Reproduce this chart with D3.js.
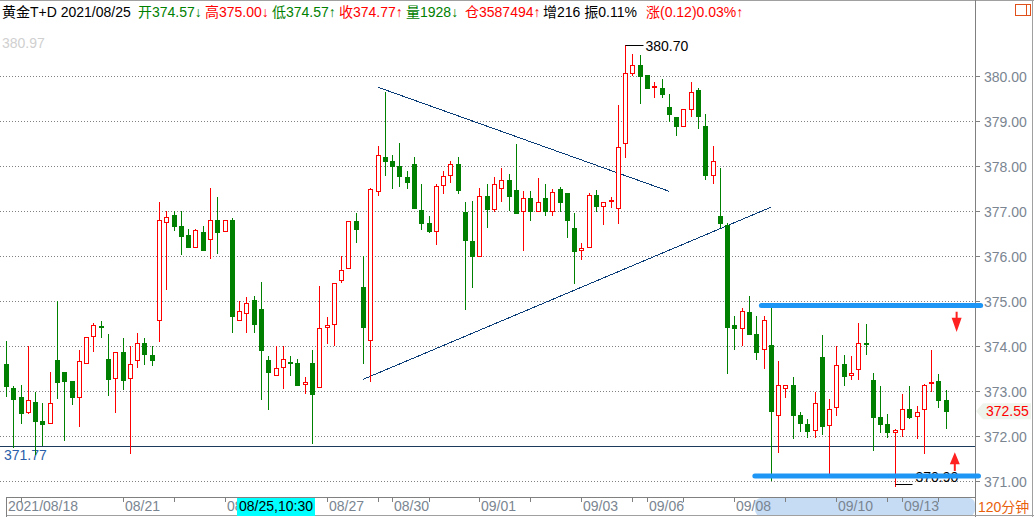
<!DOCTYPE html>
<html><head><meta charset="utf-8">
<script src="https://cdn.jsdelivr.net/npm/d3@7"></script>
<style>
body{margin:0;background:#fff;}
svg{display:block;font-family:Arial,"Liberation Sans","Noto Sans CJK SC",sans-serif;}
</style>
</head><body>
<svg id="c" width="1034" height="517"></svg>
<script>
// ---- data (120-minute candles, 黄金T+D) ----
const opens = [373.60,373.07,372.87,372.53,372.75,372.33,372.28,373.69,373.42,373.22,
372.87,373.63,374.23,374.45,373.71,373.28,373.87,373.28,373.68,374.06,
373.81,374.57,376.76,376.91,376.67,376.47,376.19,376.53,376.37,376.79,
376.55,376.79,374.57,374.73,375.02,374.82,373.69,373.35,373.53,373.65,
373.62,373.15,373.62,373.08,374.43,374.48,375.46,375.73,376.78,375.31,
374.13,377.44,378.20,378.11,378.00,377.76,378.04,377.02,376.73,376.55,
377.57,377.79,378.04,376.98,376.33,376.01,377.33,377.05,377.52,377.70,
377.46,377.01,377.28,377.01,377.28,377.01,377.48,377.39,376.62,376.13,
376.19,377.35,377.12,377.22,377.06,378.50,380.07,380.25,380.02,379.76,
379.73,379.31,379.08,378.90,379.27,379.69,378.88,377.81,376.89,376.68,
374.46,374.39,374.76,374.27,373.93,374.02,372.46,373.06,373.13,372.47,
372.27,372.13,373.76,372.24,372.64,373.61,373.35,373.48,374.07,373.24,
372.42,372.27,372.08,372.15,372.61,372.45,372.61,373.20,373.22,372.80];
const highs = [374.12,373.12,373.13,374.01,372.97,372.73,373.42,375.01,373.42,373.22,
373.91,374.21,374.51,374.56,374.27,373.86,374.17,373.99,374.29,374.18,
373.99,377.20,376.99,376.99,376.99,376.60,376.60,376.67,377.51,377.31,
376.81,376.84,375.00,375.08,375.10,375.42,373.78,373.99,374.01,373.78,
373.71,373.32,373.91,375.33,374.64,375.41,376.00,376.77,376.96,376.00,
377.52,378.44,379.64,378.24,378.51,377.90,378.21,377.60,376.90,377.60,
377.89,378.11,378.20,377.20,377.22,377.51,377.60,377.76,377.96,377.82,
378.49,377.44,377.44,377.73,377.61,377.50,377.54,377.39,376.96,376.28,
377.39,377.46,377.21,377.30,379.36,380.70,380.48,380.47,380.02,379.87,
379.93,379.60,379.08,379.26,379.86,379.73,379.16,378.44,377.96,376.73,
374.67,374.85,375.12,374.67,374.67,374.85,373.67,373.14,373.31,372.53,
372.37,372.97,374.24,372.83,374.01,373.81,373.78,374.52,374.49,373.40,
373.11,372.49,372.16,372.93,373.11,372.67,373.15,373.91,373.37,373.02];
const lows = [372.90,371.75,372.28,372.52,371.60,371.80,372.28,372.85,371.91,372.71,
372.23,373.63,373.90,374.19,372.92,372.54,373.05,371.63,373.54,373.61,
373.58,374.12,375.27,376.58,376.05,376.19,376.19,376.14,375.96,376.07,
376.55,374.32,374.57,374.32,374.32,372.83,372.59,373.35,373.07,373.36,
373.14,372.96,371.85,373.08,374.07,374.02,375.43,375.73,376.32,373.63,
373.23,377.36,377.79,377.52,377.56,377.52,377.07,376.60,376.53,376.27,
377.41,377.65,377.41,374.83,375.32,376.00,376.65,377.01,377.23,377.02,
376.95,376.13,376.80,377.01,376.91,376.91,377.00,376.42,375.39,375.93,
376.19,377.01,376.72,377.09,376.73,378.21,380.02,379.39,379.74,379.54,
379.54,379.00,378.70,378.90,379.10,378.85,377.72,377.63,376.64,373.41,
373.93,374.02,374.27,373.72,373.52,371.02,371.64,372.87,371.96,372.10,
371.97,371.97,372.04,371.10,372.47,373.14,373.26,373.26,373.83,371.70,
372.08,371.97,370.90,372.00,372.39,371.95,371.62,373.01,372.65,372.18];
const closes = [373.10,372.83,372.52,372.79,372.34,372.27,372.73,373.21,373.23,372.87,
373.66,374.21,374.46,374.42,373.27,373.86,373.25,373.61,374.06,373.83,
373.70,376.79,376.86,376.67,376.45,376.19,376.57,376.14,376.79,376.54,
376.79,374.67,374.77,374.96,374.48,373.92,373.43,373.51,373.71,373.64,
373.14,373.21,372.94,374.39,374.46,375.41,375.70,376.77,376.60,374.43,
377.50,378.24,378.12,378.00,377.77,377.65,377.07,376.74,376.55,377.56,
377.77,378.04,377.47,376.36,376.01,377.33,377.05,377.59,377.70,377.34,
376.96,377.28,377.00,377.19,377.00,377.43,377.21,376.79,376.12,376.17,
377.35,377.12,377.19,377.24,378.42,380.06,380.24,380.01,379.74,379.77,
379.61,379.16,378.90,379.26,379.64,379.10,377.81,378.10,376.74,374.43,
374.39,374.77,374.27,373.87,374.58,372.56,373.13,373.13,372.47,372.28,
372.10,372.73,372.22,372.61,373.57,373.34,373.41,374.06,374.05,372.43,
372.27,372.08,372.13,372.61,372.43,372.53,373.13,373.21,372.81,372.55];

const yTicks = [371,372,373,374,375,376,377,378,379,380];
const xTickIdx = [0,2,16,23,30,44,51,53,58,65,72,79,86,88,93,100,107,114,121,123,128];
const xLabelIdx = [0,16,30,44,53,65,79,88,100,114,123];
const xLabels = ["2021/08/18","08/21","08/25","08/27","08/30","09/01","09/03","09/06","09/08","09/10","09/13"];
const cursorIdx = 32, cursorLabel = "08/25,10:30";
const refLine = 371.77;
const lastPrice = 372.55;
const topValue = 380.97;
const highMark = {idx:85, value:380.70};
const lowMark = {idx:122, value:370.90};
// trend lines: [idx1, price1, idx2, price2]
const trendLines = [[51.06,379.75,91.0,377.44],[49.04,373.26,104.95,377.08]];
// horizontal levels: [idxStart, price, idxEnd]
const levelLines = [[103.7,374.90,133.8],[102.8,371.11,133.5]];
const arrowsDown = [[130.5,374.76,374.31]];
const arrowsUp = [[130.25,371.64,371.22]];

const titleParts = [
  ["黄金T+D 2021/08/25","#000"],["开374.57↓","#008000"],["高375.00↓","#ff0000"],
  ["低374.57↑","#008000"],["收374.77↑","#ff0000"],["量1928↓","#008000"],
  ["仓3587494↑","#ff0000"],["增216 振0.11%","#000"],["涨(0.12)0.03%↑","#ff0000"]
];
const titleX = [2,138,205,272,339,406,465,543,646];

// ---- drawing ----
const svg = d3.select("#c");
const W=1034, H=517, plotR=975, plotB=497;
const x = d3.scaleLinear().domain([0,129]).range([6,945.7]);
const y = d3.scaleLinear().domain([371,380]).range([481,76]);
const UP="#ff0000", DN="#008000", AX="#7a8591";

svg.append("rect").attr("width",W).attr("height",H).attr("fill","#fff");

// title
const tt = svg.append("text").attr("y",17).attr("font-size",14);
titleParts.forEach((p,k)=>tt.append("tspan").attr("x",titleX[k]).attr("fill",p[1]).text(p[0]));

// frame
svg.append("line").attr("x1",0).attr("x2",W).attr("y1",0.5).attr("y2",0.5).attr("stroke","#a0a0a0");
svg.append("line").attr("x1",plotR+0.5).attr("x2",plotR+0.5).attr("y1",0).attr("y2",H).attr("stroke","#808080");
svg.append("line").attr("x1",W-1.5).attr("x2",W-1.5).attr("y1",0).attr("y2",H).attr("stroke","#a0a0a0");
// icon top right
svg.append("rect").attr("x",1015.5).attr("y",4.5).attr("width",15).attr("height",11).attr("fill","none").attr("stroke","#e0501a");
svg.append("line").attr("x1",1026.5).attr("x2",1026.5).attr("y1",4.5).attr("y2",15.5).attr("stroke","#e0501a");

// grid
const g = svg.append("g");
yTicks.forEach(v=>{
  const yy=Math.round(y(v))+0.5;
  g.append("line").attr("x1",0).attr("x2",plotR).attr("y1",yy).attr("y2",yy)
    .attr("stroke","#808080").attr("stroke-dasharray","1,2");
  g.append("line").attr("x1",plotR).attr("x2",plotR+5).attr("y1",yy).attr("y2",yy).attr("stroke","#808080");
  g.append("text").attr("x",984).attr("y",yy+5).attr("font-size",14).attr("fill",AX).text(v.toFixed(2));
});

// top faint value
svg.append("text").attr("x",2).attr("y",48).attr("font-size",14).attr("fill","#d0d0d0").text(topValue.toFixed(2));

// reference line
const ry = Math.round(y(refLine))+0.5;
svg.append("line").attr("x1",0).attr("x2",plotR).attr("y1",ry).attr("y2",ry).attr("stroke","#1c3a5c");
svg.append("text").attr("x",4).attr("y",ry+13).attr("font-size",14).attr("fill","#2a5ea8").text(refLine.toFixed(2));

// trend lines
trendLines.forEach(t=>{
  svg.append("line").attr("x1",x(t[0])).attr("y1",y(t[1])).attr("x2",x(t[2])).attr("y2",y(t[3]))
    .attr("stroke","#0a3c78").attr("stroke-width",1).attr("shape-rendering","crispEdges");
});

// candles
const cg = svg.append("g");
opens.forEach((o,i)=>{
  const c=closes[i], h=highs[i], l=lows[i];
  const up = c>o;
  const col = up?UP:DN;
  const cx = Math.round(x(i));
  const top = Math.round(y(Math.max(o,c))), bot = Math.round(y(Math.min(o,c)));
  cg.append("line").attr("x1",cx+0.5).attr("x2",cx+0.5).attr("y1",Math.round(y(h))).attr("y2",Math.round(y(l))+1)
    .attr("stroke",col);
  if(up){
    if(bot-top<2){
      cg.append("rect").attr("x",cx-2).attr("y",top).attr("width",5).attr("height",Math.max(2,bot-top+1)).attr("fill",col);
    } else {
      cg.append("rect").attr("x",cx-1.5).attr("y",top+0.5).attr("width",4).attr("height",bot-top)
        .attr("fill","#fff").attr("stroke",col);
    }
  } else {
    cg.append("rect").attr("x",cx-2).attr("y",top).attr("width",5).attr("height",Math.max(2,bot-top+1)).attr("fill",col);
  }
});

// high marker
{
  const hx=Math.round(x(highMark.idx))+0.5, hy=Math.round(y(highMark.value))+0.5;
  svg.append("line").attr("x1",hx).attr("x2",hx+18).attr("y1",hy).attr("y2",hy).attr("stroke","#000");
  svg.append("text").attr("x",hx+20).attr("y",hy+5).attr("font-size",14).attr("fill","#000").text(highMark.value.toFixed(2));
}
// low marker
{
  const lx=Math.round(x(lowMark.idx))+0.5, ly=Math.round(y(lowMark.value))-1.5;
  svg.append("line").attr("x1",lx).attr("x2",lx+17).attr("y1",ly).attr("y2",ly).attr("stroke","#000");
  svg.append("text").attr("x",lx+20).attr("y",ly-3).attr("font-size",14).attr("fill","#000").text(lowMark.value.toFixed(2));
}

// level lines (thick blue)
levelLines.forEach(t=>{
  svg.append("line").attr("x1",x(t[0])).attr("x2",x(t[2])).attr("y1",y(t[1])).attr("y2",y(t[1]))
    .attr("stroke","#1e96f5").attr("stroke-width",5).attr("stroke-linecap","round");
});

// red arrows
arrowsDown.forEach(a=>{
  const ax=x(a[0]), y1=y(a[1]), y2=y(a[2]);
  svg.append("path").attr("fill","#ff2020")
    .attr("d",`M${ax-1},${y1} L${ax+1},${y1} L${ax+1},${y1+6} L${ax+5},${y1+6} L${ax},${y2} L${ax-5},${y1+6} L${ax-1},${y1+6} Z`);
});
arrowsUp.forEach(a=>{
  const ax=x(a[0]), y1=y(a[1]), y2=y(a[2]);
  svg.append("path").attr("fill","#ff2020")
    .attr("d",`M${ax},${y1} L${ax+5},${y1+12} L${ax+1},${y1+12} L${ax+1},${y2} L${ax-1},${y2} L${ax-1},${y1+12} L${ax-5},${y1+12} Z`);
});

// last price tag
{
  const ly=y(lastPrice);
  svg.append("path").attr("fill","#eef4ec").attr("d",`M${plotR+1},${ly} L${plotR+8},${ly-8} L${W-3},${ly-8} L${W-3},${ly+8} L${plotR+8},${ly+8} Z`);
  svg.append("text").attr("x",986).attr("y",ly+5).attr("font-size",14).attr("fill","#ff0000").text(lastPrice.toFixed(2));
}

// bottom axis
const bx = svg.append("g");
bx.append("rect").attr("x",755).attr("y",plotB+1).attr("width",plotR-755).attr("height",18).attr("rx",6).attr("fill","#c6dcf5");
bx.append("line").attr("x1",x(0)).attr("x2",plotR).attr("y1",plotB+0.5).attr("y2",plotB+0.5).attr("stroke","#808080");
bx.append("line").attr("x1",x(0)).attr("x2",W).attr("y1",H-1.5).attr("y2",H-1.5).attr("stroke","#a0a0a0");
bx.append("line").attr("x1",Math.round(x(0))+0.5).attr("x2",Math.round(x(0))+0.5).attr("y1",plotB).attr("y2",H).attr("stroke","#808080");
xTickIdx.forEach(i=>{
  const tx=Math.round(x(i))+0.5;
  bx.append("line").attr("x1",tx).attr("x2",tx).attr("y1",plotB).attr("y2",plotB+5).attr("stroke","#808080");
});
xLabelIdx.forEach((i,k)=>{
  bx.append("text").attr("x",Math.round(x(i))+2).attr("y",511).attr("font-size",14).attr("fill",AX).text(xLabels[k]);
});
// cursor label (covers part of the 08/25 date label, as in the reference)
{
  const cx=Math.round(x(cursorIdx));
  bx.append("rect").attr("x",cx-2).attr("y",plotB+1).attr("width",78).attr("height",18).attr("fill","#00ffff");
  bx.append("text").attr("x",cx).attr("y",511).attr("font-size",14).attr("fill","#000").text(cursorLabel);
}
// period box
bx.append("text").attr("x",978).attr("y",512).attr("font-size",14).attr("fill","#e8600a").text("120分钟");
</script>
</body></html>
